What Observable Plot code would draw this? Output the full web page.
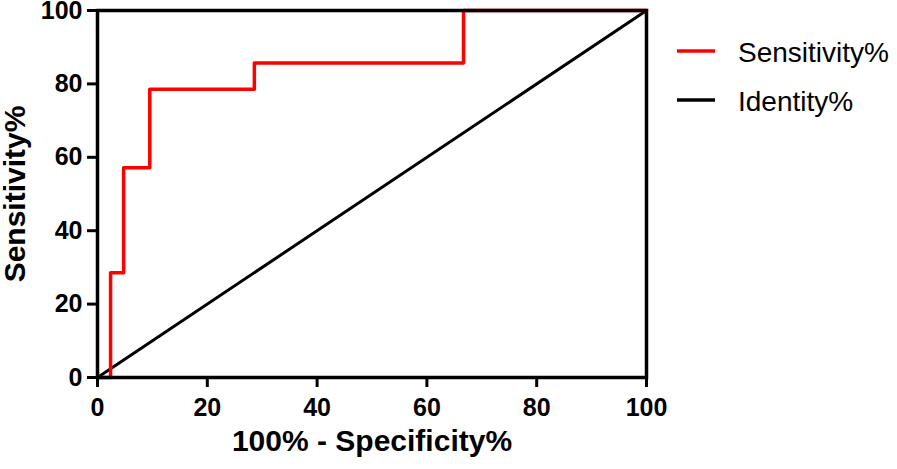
<!DOCTYPE html>
<html>
<head>
<meta charset="utf-8">
<script src="https://cdn.jsdelivr.net/npm/d3@7"></script>
<script src="https://cdn.jsdelivr.net/npm/@observablehq/plot@0.6"></script>
<style>
  html, body { margin: 0; padding: 0; background: #fff; }
  #chart { position: relative; width: 897px; height: 469px; }
</style>
</head>
<body>
<div id="chart"></div>
<script>
// ROC curve points (100% - Specificity%, Sensitivity%)
const rocFpr = [0, 2.38, 4.76, 9.52, 28.57, 66.67, 100];
const rocSens = [0, 28.57, 57.14, 78.57, 85.71, 100, 100];
// Identity line
const idX = [0, 100];
const idY = [0, 100];
const xTicks = [0, 20, 40, 60, 80, 100];
const yTicks = [0, 20, 40, 60, 80, 100];
const legendLabels = ["Sensitivity%", "Identity%"];
const legendColors = ["#ff0000", "#000000"];
const xTitle = "100% - Specificity%";
const yTitle = "Sensitivity%";

const roc = rocFpr.map((x, i) => ({x, y: rocSens[i]}));
const ident = idX.map((x, i) => ({x, y: idY[i]}));

const font = "'Liberation Sans', Arial, sans-serif";

const svg = Plot.plot({
  width: 897,
  height: 469,
  marginLeft: 97,
  marginRight: 251,
  marginTop: 10,
  marginBottom: 92,
  style: {fontFamily: font, fontWeight: "bold", background: "#fff", color: "#000", overflow: "visible"},
  x: {domain: [0, 100]},
  y: {domain: [0, 100]},
  marks: [
    Plot.line(ident, {x: "x", y: "y", stroke: "#000", strokeWidth: 3}),
    Plot.line(roc, {x: "x", y: "y", stroke: legendColors[0], strokeWidth: 3.5, curve: "step-after"}),
    Plot.frame({stroke: "#000", strokeWidth: 3.5}),
    Plot.axisX({ticks: xTicks, tickSize: 10, tickPadding: 11, strokeWidth: 3, fontSize: 25, fontWeight: "bold", label: null}),
    Plot.axisY({ticks: yTicks, tickSize: 10, tickPadding: 5, strokeWidth: 3, fontSize: 25, fontWeight: "bold", label: null}),
    Plot.text([xTitle], {frameAnchor: "bottom", dy: 73, fontSize: 30, fontWeight: "bold", textAnchor: "middle"}),
    Plot.text([yTitle], {frameAnchor: "left", dx: -82, rotate: -90, fontSize: 30, fontWeight: "bold", textAnchor: "middle"})
  ]
});

document.getElementById("chart").appendChild(svg);

// thicker tick lines
d3.select(svg).selectAll('g[aria-label$="tick"]')
  .attr("stroke-width", 3).style("stroke-width", "3px")
  .selectAll("path").attr("stroke-width", 3).style("stroke-width", "3px");

// Legend
const lg = d3.select(svg).append("g")
  .attr("font-family", font).attr("font-weight", "normal").attr("text-anchor", "start");
legendLabels.forEach((lab, i) => {
  const cy = 51 + i * 49;
  lg.append("line")
    .attr("x1", 677).attr("x2", 715).attr("y1", cy).attr("y2", cy)
    .attr("stroke", legendColors[i]).attr("stroke-width", 3.5);
  lg.append("text")
    .attr("x", 738).attr("y", cy + 11)
    .attr("font-size", 28).attr("fill", "#000")
    .text(lab);
});
</script>
</body>
</html>
